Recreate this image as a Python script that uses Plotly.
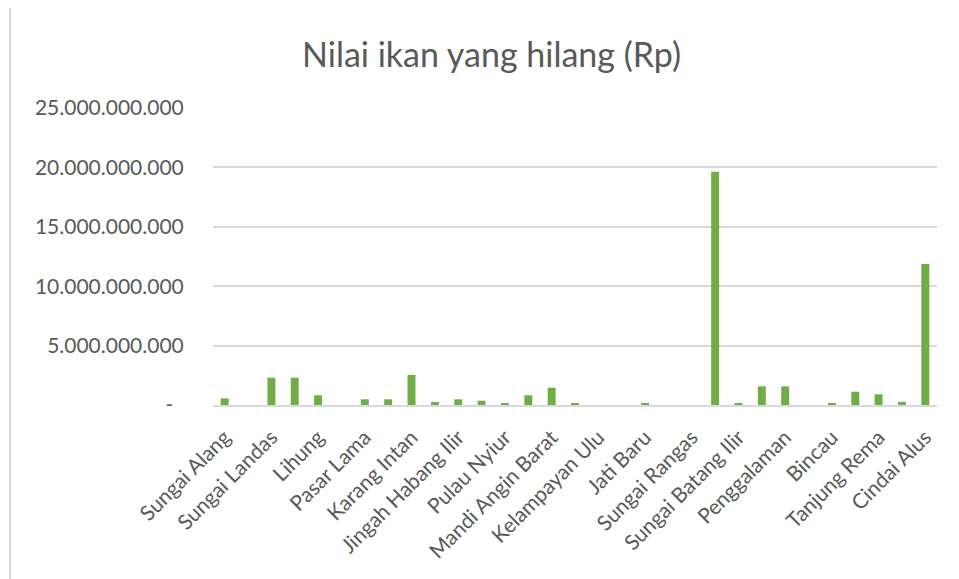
import plotly.graph_objects as go

# Desa (only every other category carries a label on the axis)
label_names = [
    "Sungai Alang", "Sungai Landas", "Lihung", "Pasar Lama", "Karang Intan",
    "Jingah Habang Ilir", "Pulau Nyiur", "Mandi Angin Barat", "Kelampayan Ulu",
    "Jati Baru", "Sungai Rangas", "Sungai Batang Ilir", "Penggalaman",
    "Bincau", "Tanjung Rema", "Cindai Alus",
]

# Nilai ikan yang hilang (Rp), 31 desa in order
nilai = [
    560_000_000, 0, 2_300_000_000, 2_300_000_000, 820_000_000, 0,
    480_000_000, 480_000_000, 2_530_000_000, 250_000_000, 480_000_000,
    360_000_000, 170_000_000, 820_000_000, 1_460_000_000, 170_000_000,
    0, 0, 170_000_000, 0, 0, 19_640_000_000, 150_000_000,
    1_570_000_000, 1_570_000_000, 0, 150_000_000, 1_120_000_000,
    900_000_000, 270_000_000, 11_870_000_000,
]

x_idx = list(range(len(nilai)))

y_ticks = [0, 5e9, 10e9, 15e9, 20e9, 25e9]
y_text = ["-\u2002", "5.000.000.000", "10.000.000.000",
          "15.000.000.000", "20.000.000.000", "25.000.000.000"]

FONT = "Lato"
GREY = "#595959"

# the page body adds an 8px margin, so the figure is drawn 8px smaller
W, H = 951, 571
ML, MR, MT, MB = 205, 22, 100, 174
PW, PH = W - ML - MR, H - MT - MB

fig = go.Figure(go.Bar(
    x=x_idx,
    y=nilai,
    marker=dict(color="#70AD47", line=dict(width=0)),
    hovertemplate="%{y:,.0f}<extra></extra>",
))

fig.update_layout(
    width=W,
    height=H,
    paper_bgcolor="white",
    plot_bgcolor="white",
    margin=dict(l=ML, r=MR, t=MT, b=MB),
    bargap=0.66,
    showlegend=False,
    font=dict(family=FONT, color=GREY),
    title=dict(
        text="Nilai ikan yang hilang (Rp)",
        x=483.5 / W, xanchor="center",
        y=1 - 47 / H, yanchor="middle",
        font=dict(family=FONT, size=34, color=GREY),
    ),
    xaxis=dict(
        range=[-0.5, len(nilai) - 0.5],
        tickvals=x_idx[::2],
        ticktext=label_names,
        tickangle=-45,
        tickfont=dict(size=21, color=GREY),
        showgrid=False,
        showline=True, linecolor="#D9D9D9", linewidth=1.5,
        ticks="outside", ticklen=10, tickcolor="rgba(0,0,0,0)",
        zeroline=False,
    ),
    yaxis=dict(
        range=[0, 25e9],
        tickvals=y_ticks,
        ticktext=y_text,
        tickfont=dict(size=21, color=GREY),
        showgrid=True, gridcolor="#D9D9D9", gridwidth=1.5,
        zeroline=False,
        ticks="outside", ticklen=24, tickcolor="rgba(0,0,0,0)",
    ),
    shapes=[dict(
        type="line", xref="paper", yref="paper",
        x0=(2 - ML) / PW, x1=(2 - ML) / PW, y0=-MB / PH, y1=1 + MT / PH,
        line=dict(color="#D9D9D9", width=2),
    )],
)

fig.write_html("out.html")
